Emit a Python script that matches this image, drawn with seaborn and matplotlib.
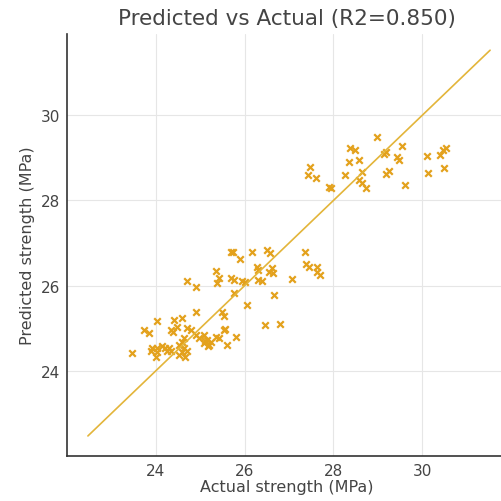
import numpy as np
import pandas as pd
import matplotlib
matplotlib.use("Agg")
import matplotlib.pyplot as plt
import seaborn as sns

actual = [
    28.98, 28.37, 28.49, 28.34, 28.57, 28.64, 28.25, 28.57, 28.65, 28.73,
    29.13, 29.19, 29.53, 29.43, 29.47, 29.24, 29.17, 29.60, 30.11, 30.39,
    30.52, 30.46, 30.13, 30.48, 27.48, 27.42, 27.60, 27.90, 27.95,
    25.69, 25.75, 26.17, 26.51, 25.89, 26.27, 26.30, 26.55, 25.35, 25.42,
    25.39, 25.70, 25.76, 25.95, 26.00, 26.30, 26.40, 24.70, 24.90, 25.76,
    26.06, 24.92, 25.50, 25.53, 26.46, 26.79, 25.57, 25.80, 26.58, 27.36,
    27.39, 27.44, 27.62, 27.63, 27.69, 26.62, 26.64, 27.06, 26.67,
    24.41, 24.60, 24.49, 24.04, 23.74, 23.85, 24.34, 24.40, 24.71, 24.79,
    24.90, 24.97, 24.64, 24.60, 25.09, 25.16, 25.09, 25.20, 25.12, 25.24,
    25.17, 25.53, 25.35, 25.42, 25.61, 23.93, 24.04, 24.15, 24.22, 24.30,
    23.89, 24.04, 24.52, 24.64, 24.71, 24.60, 24.52, 24.67, 23.48, 24.00,
    24.26, 24.34,
]
predicted = [
    29.48, 29.23, 29.17, 28.90, 28.94, 28.67, 28.60, 28.47, 28.40, 28.29,
    29.09, 29.13, 29.27, 29.02, 28.94, 28.70, 28.62, 28.37, 29.04, 29.07,
    29.23, 29.17, 28.64, 28.76, 28.78, 28.59, 28.53, 28.32, 28.28,
    26.78, 26.80, 26.78, 26.83, 26.62, 26.45, 26.37, 26.33, 26.34, 26.19,
    26.06, 26.19, 26.13, 26.11, 26.08, 26.13, 26.10, 26.11, 25.98, 25.82,
    25.55, 25.38, 25.38, 25.30, 25.07, 25.10, 24.99, 24.79, 26.76, 26.80,
    26.52, 26.45, 26.45, 26.33, 26.25, 26.41, 26.29, 26.16, 25.78,
    25.20, 25.24, 25.04, 25.18, 24.96, 24.89, 24.96, 24.92, 25.00, 24.96,
    24.85, 24.77, 24.77, 24.69, 24.85, 24.73, 24.65, 24.61, 24.70, 24.68,
    24.58, 24.96, 24.81, 24.77, 24.61, 24.54, 24.54, 24.58, 24.54, 24.54,
    24.46, 24.44, 24.61, 24.54, 24.46, 24.44, 24.38, 24.34, 24.42, 24.34,
    24.46, 24.46,
]
r2_value = 0.850
title = f"Predicted vs Actual (R2={r2_value:.3f})"
x_label = "Actual strength (MPa)"
y_label = "Predicted strength (MPa)"
x_ticks = [24, 26, 28, 30]
y_ticks = [24, 26, 28, 30]

df = pd.DataFrame({"actual": actual, "predicted": predicted})

sns.set_style("whitegrid", {"grid.color": "#e6e6e6", "axes.edgecolor": "#333333"})
plt.rcParams["font.family"] = ["DejaVu Sans"]

fig = plt.figure(figsize=(5.01, 5.02), dpi=100)
ax = fig.add_axes([67 / 501, 45 / 502, 440 / 501, 422 / 502])

point_color = "#E3A11C"
line_color = "#E3B53A"
text_color = "#444444"

lo = min(df["actual"].min(), df["predicted"].min()) - 1
hi = max(df["actual"].max(), df["predicted"].max()) + 1
diag = pd.DataFrame({"x": [lo, hi], "y": [lo, hi]})
sns.lineplot(data=diag, x="x", y="y", ax=ax, color=line_color, linewidth=1.2)
sns.scatterplot(data=df, x="actual", y="predicted", ax=ax, marker="x",
                color=point_color, s=22, linewidth=1.6)

ax.set_xlim(22.01, 31.9)
ax.set_ylim(22.01, 31.9)
ax.set_xticks(x_ticks)
ax.set_yticks(y_ticks)
ax.set_title(title, fontsize=15.5, color=text_color, pad=7)
ax.set_xlabel(x_label, fontsize=11.5, color=text_color, labelpad=1)
ax.set_ylabel(y_label, fontsize=11.5, color=text_color, labelpad=4)
ax.tick_params(axis="both", labelsize=11, colors=text_color, direction="out",
               length=3, width=0.8, pad=2)
for side in ["top", "right"]:
    ax.spines[side].set_visible(False)
for side in ["left", "bottom"]:
    ax.spines[side].set_color("#333333")
    ax.spines[side].set_linewidth(1.2)
ax.grid(True, color="#e6e6e6", linewidth=0.8)

fig.savefig("out.png", dpi=100)
